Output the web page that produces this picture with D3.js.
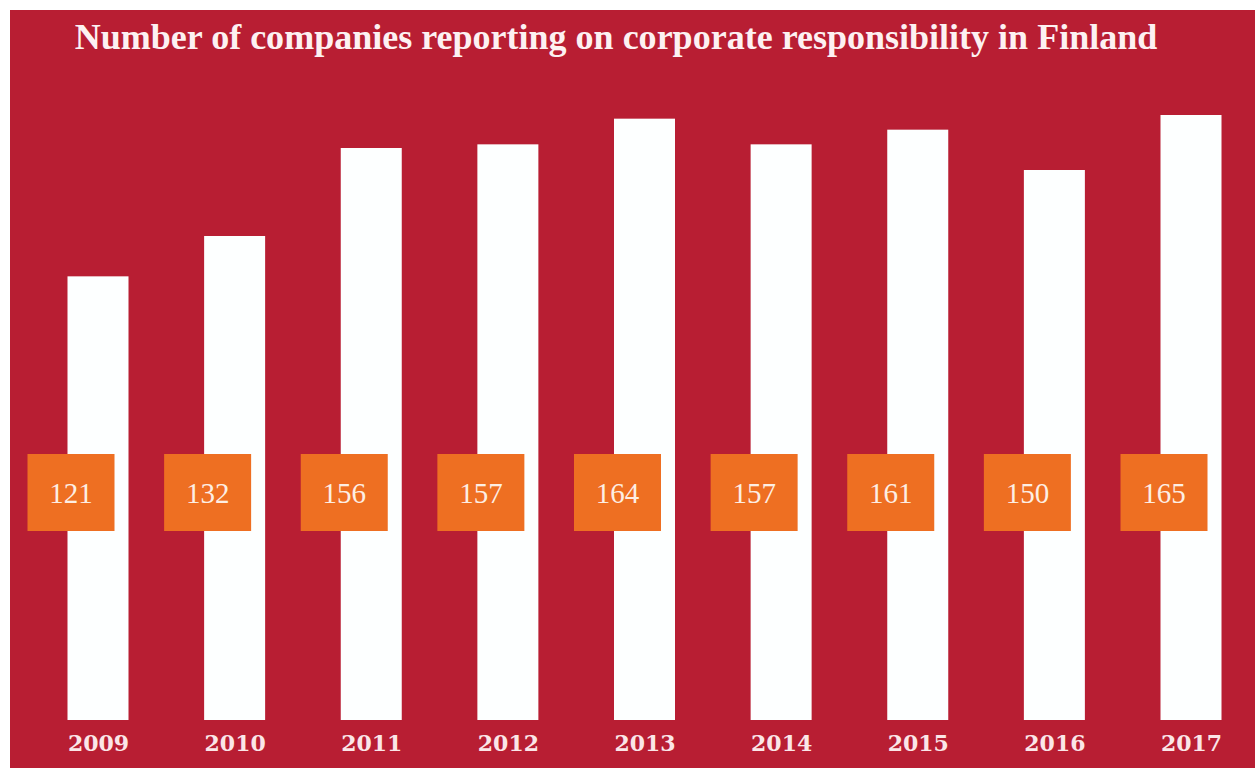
<!DOCTYPE html>
<html>
<head>
<meta charset="utf-8">
<script src="https://cdn.jsdelivr.net/npm/d3@7"></script>
<style>
  html, body { margin: 0; padding: 0; background: #ffffff; }
  svg { display: block; }
</style>
</head>
<body>
<svg id="chart" width="1255" height="768"></svg>
<script>
// Reporting companies per year
const years = ["2009", "2010", "2011", "2012", "2013", "2014", "2015", "2016", "2017"];
const companies = [121, 132, 156, 157, 164, 157, 161, 150, 165];
const title = "Number of companies reporting on corporate responsibility in Finland";

const W = 1255, H = 768;
const RED = "#b81e33", ORANGE = "#ee6f22";

const svg = d3.select("#chart");

// red panel
svg.append("rect")
  .attr("x", 10).attr("y", 10)
  .attr("width", W - 10).attr("height", H - 10)
  .attr("fill", RED);

// title
const t = svg.append("text")
  .attr("x", 616).attr("y", 49)
  .attr("text-anchor", "middle")
  .attr("font-family", "'Liberation Serif', 'DejaVu Serif', serif")
  .attr("font-weight", "bold")
  .attr("font-size", 30)
  .attr("fill", "#fdf1f2")
  .text(title);
// fit title to its width
const tl = t.node().getComputedTextLength();
const targetW = 1083;
t.attr("font-size", 30 * targetW / tl);

const data = years.map((y, i) => ({ year: y, value: companies[i] }));

const x = d3.scalePoint().domain(years).range([98, 1191]);
const y = d3.scaleLinear().domain([0, 165]).range([720, 115]);
const barW = 61;

// bars
svg.append("g").selectAll("rect")
  .data(data).join("rect")
  .attr("x", d => x(d.year) - barW / 2)
  .attr("y", d => y(d.value))
  .attr("width", barW)
  .attr("height", d => y(0) - y(d.value))
  .attr("fill", "#fdffff");

// value boxes
const boxW = 87, boxH = 77, boxY = 454, boxShift = -27;
const boxes = svg.append("g").selectAll("g")
  .data(data).join("g")
  .attr("transform", d => `translate(${x(d.year) + boxShift},${boxY})`);

boxes.append("rect")
  .attr("x", -boxW / 2).attr("y", 0)
  .attr("width", boxW).attr("height", boxH)
  .attr("fill", ORANGE);

boxes.append("text")
  .attr("x", 0).attr("y", boxH / 2 + 10)
  .attr("text-anchor", "middle")
  .attr("font-family", "'Liberation Serif', 'DejaVu Serif', serif")
  .attr("font-size", 29)
  .attr("fill", "#fdeee4")
  .text(d => d.value);

// year axis
const axis = d3.axisBottom(x).tickSize(0).tickPadding(0);
const ag = svg.append("g")
  .attr("transform", "translate(0,733)")
  .call(axis);
ag.select(".domain").remove();
ag.selectAll("text")
  .attr("dy", 0)
  .attr("y", 18)
  .attr("font-family", "'DejaVu Serif', serif")
  .attr("font-weight", "bold")
  .attr("font-size", 22)
  .attr("fill", "#fbe6e8");
</script>
</body>
</html>
